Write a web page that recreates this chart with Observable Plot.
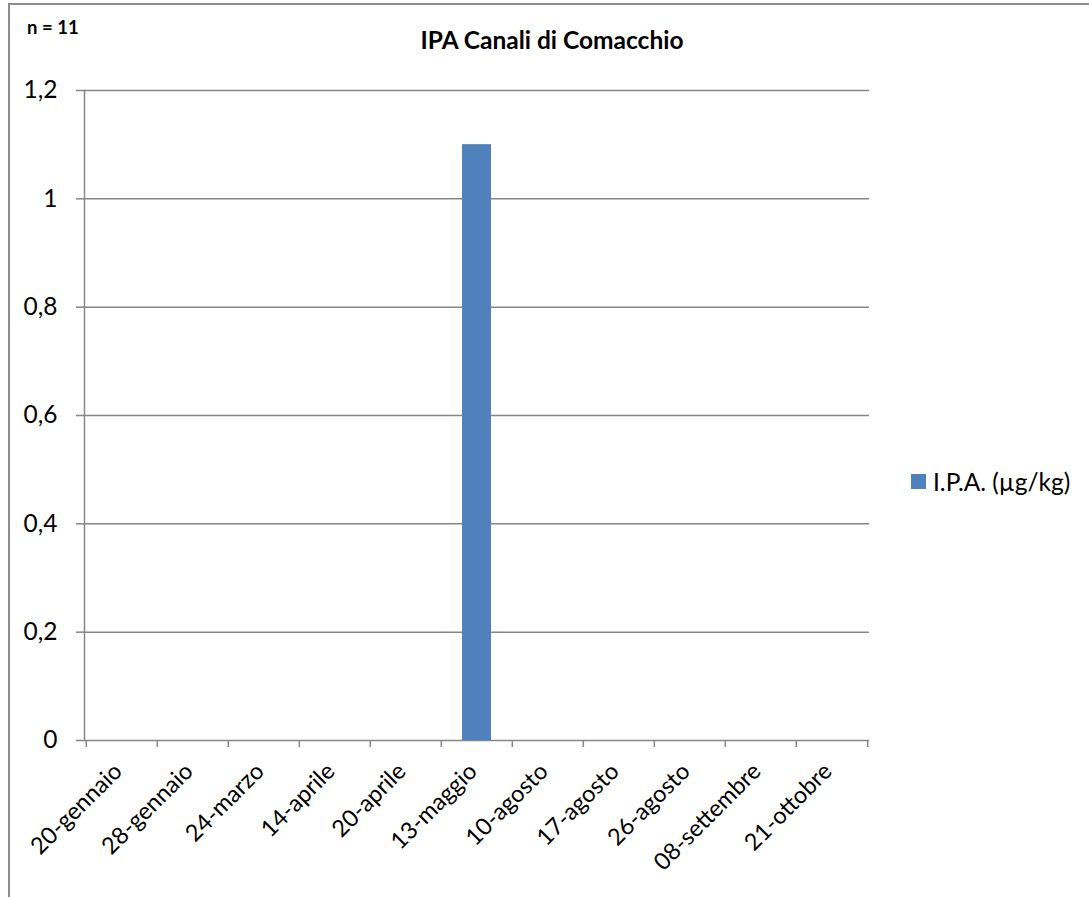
<!DOCTYPE html>
<html>
<head>
<meta charset="utf-8">
<script src="https://cdn.jsdelivr.net/npm/d3@7"></script>
<script src="https://cdn.jsdelivr.net/npm/@observablehq/plot@0.6"></script>
<style>
  html, body { margin: 0; padding: 0; background: #fff; }
  #wrap { position: relative; width: 1089px; height: 897px; font-family: Lato, "Open Sans", sans-serif; color: #000; overflow: hidden; }
  #frame { position: absolute; left: 8px; top: 3px; width: 1200px; height: 1000px; border-top: 2px solid #8c8c8c; border-left: 2px solid #8c8c8c; box-sizing: border-box; }
  #n { position: absolute; left: 27px; top: 16px; font-weight: bold; font-size: 18.5px; line-height: 1.2; }
  #title { position: absolute; left: 0; width: 1104px; top: 25px; text-align: center; font-weight: bold; font-size: 24.5px; line-height: 1.2; }
  #legend { position: absolute; left: 911px; top: 467px; font-size: 24.5px; line-height: 1.2; display: flex; align-items: center; }
  #legend .sw { width: 15px; height: 15px; background: #4F81BD; margin-right: 7px; }
  #chart { position: absolute; left: 0; top: 0; }
</style>
</head>
<body>
<div id="wrap">
  <div id="frame"></div>
  <div id="chart"></div>
  <div id="n">n = 11</div>
  <div id="title">IPA Canali di Comacchio</div>
  <div id="legend"><div class="sw"></div><span>I.P.A. (µg/kg)</span></div>
</div>
<script>
// Sampling dates (Canali di Comacchio)
const dates = ["20-gennaio", "28-gennaio", "24-marzo", "14-aprile", "20-aprile", "13-maggio",
               "10-agosto", "17-agosto", "26-agosto", "08-settembre", "21-ottobre"];
// I.P.A. concentration (µg/kg); null = no value reported
const ipa = [null, null, null, null, null, 1.1, null, null, null, null, null];
// Value-axis ticks
const yTicks = [0, 0.2, 0.4, 0.6, 0.8, 1, 1.2];

const rows = dates.map((d, i) => ({date: d, value: ipa[i]})).filter(r => r.value != null);

const width = 1089, height = 897;
const marginLeft = 84, marginRight = 220, marginTop = 90, marginBottom = 157;
const step = (width - marginLeft - marginRight) / dates.length;
const grey = "#868686";
const itFmt = d => String(d).replace(".", ",");

const chart = Plot.plot({
  width, height, marginLeft, marginRight, marginTop, marginBottom,
  style: {fontFamily: "Lato, 'Open Sans', sans-serif", fontSize: "24px", color: "#000", background: "transparent"},
  x: {type: "band", domain: dates, padding: 0, label: null},
  y: {domain: [0, 1.2], label: null},
  marks: [
    Plot.gridY(yTicks, {stroke: grey, strokeOpacity: 1, strokeWidth: 1.5}),
    Plot.frame({anchor: "left", stroke: grey, strokeWidth: 1.5}),
    Plot.axisY(yTicks, {label: null, tickSize: 8, tickPadding: 19, tickFormat: itFmt, stroke: grey, strokeWidth: 1.5, fill: "#000", fontSize: 24.5}),
    // category boundary ticks below the value axis
    Plot.ruleX(dates, {x: d => d, y1: 0, y2: 0, dx: -step / 2, insetBottom: -7, stroke: grey, strokeWidth: 1.5}),
    Plot.ruleX(dates.slice(-1), {x: d => d, y1: 0, y2: 0, dx: step / 2, insetBottom: -7, stroke: grey, strokeWidth: 1.5}),
    Plot.barY(rows, {x: "date", y: "value", fill: "#4F81BD", insetLeft: 21, insetRight: 21}),
    Plot.axisX({label: null, tickSize: 0, tickPadding: 27, dx: -4, tickRotate: -45, textAnchor: "end", fill: "#000", fontSize: 23.5})
  ]
});
document.getElementById("chart").appendChild(chart);
</script>
</body>
</html>
